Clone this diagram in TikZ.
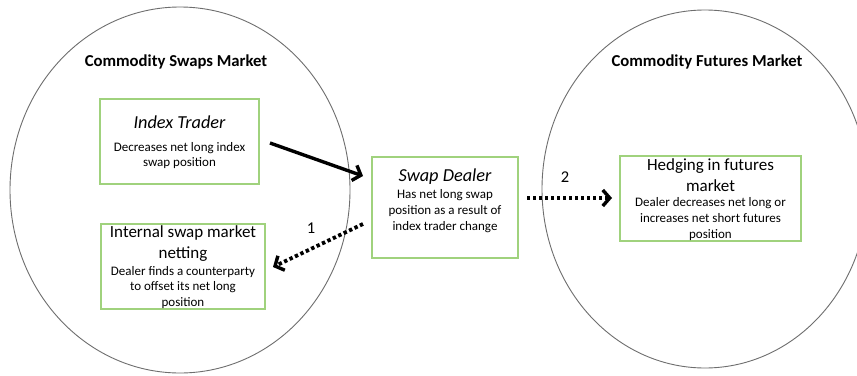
\documentclass[tikz,border=0pt]{standalone}
\usepackage{fontspec}
\setmainfont{Carlito}
\usetikzlibrary{arrows.meta}
\definecolor{boxgreen}{RGB}{160,210,125}
\definecolor{ringgray}{RGB}{110,110,110}
\begin{document}
\begin{tikzpicture}[x=1pt,y=-1pt,
  ring/.style={draw=ringgray,line width=0.9pt},
  gbox/.style={draw=boxgreen,line width=1.3pt},
  ttl/.style={font=\fontsize{16.7}{18}\selectfont\bfseries},
  head/.style={font=\fontsize{17}{20.5}\selectfont, align=center, inner sep=0pt},
  ihead/.style={font=\fontsize{18.3}{20.5}\selectfont\itshape, align=center, inner sep=0pt},
  body/.style={font=\fontsize{13}{15.7}\selectfont, align=center, inner sep=0pt},
  solidarrow/.style={line width=3.4pt,-{Straight Barb[length=7pt,width=16pt,line width=3.4pt]}},
  dotarrow/.style={line width=3.8pt,dash pattern=on 3.4pt off 2.6pt,-{Straight Barb[length=7pt,width=16pt,line width=3.4pt]}},
  num/.style={font=\fontsize{16.5}{18}\selectfont, inner sep=0pt}]
\useasboundingbox (0,0) rectangle (857,375);
\fill[white] (0,0) rectangle (857,375);
% circles
\draw[ring] (180,190) ellipse [x radius=170, y radius=183];
\draw[ring] (705,189) ellipse [x radius=163, y radius=179];
\node[ttl] (t1) at (176,62) {Commodity Swaps Market};
\node[ttl] (t2) at (707,62) {Commodity Futures Market};
% boxes
\path[gbox] (100,99) rectangle (259,184);
\path[gbox] (101,224) rectangle (265,309);
\path[gbox] (372,157) rectangle (518,258);
\path[gbox] (620,156) rectangle (801,241);
% texts
\node[ihead] (ith) at (179.5,122) {Index Trader};
\node[body] (itb) at (179.5,155.5) {Decreases net long index\\swap position};
\node[head] (inh) at (183,243.5) {Internal swap market\\netting};
\node[body] (inb) at (183,287.5) {Dealer finds a counterparty\\to offset its net long\\position};
\node[ihead] (sdh) at (445,177) {Swap Dealer};
\node[body] (sdb) at (445,211) {Has net long swap\\position as a result of\\index trader change};
\node[head] (hfh) at (710.5,175) {Hedging in futures\\market};
\node[body] (hfb) at (710.5,219) {Dealer decreases net long or\\increases net short futures\\position};
% arrows
\coordinate (a1s) at (270,143);
\coordinate (a1e) at (363,176);
\draw[solidarrow] (a1s) -- (a1e);
\coordinate (a2s) at (363,224);
\coordinate (a2e) at (273,267);
\draw[dotarrow] (a2s) -- (a2e);
\coordinate (a3s) at (527,198);
\coordinate (a3e) at (612,198);
\draw[dotarrow] (a3s) -- (a3e);
\node[num] (n1) at (311,228) {1};
\node[num] (n2) at (565,177) {2};
\end{tikzpicture}
\end{document}
